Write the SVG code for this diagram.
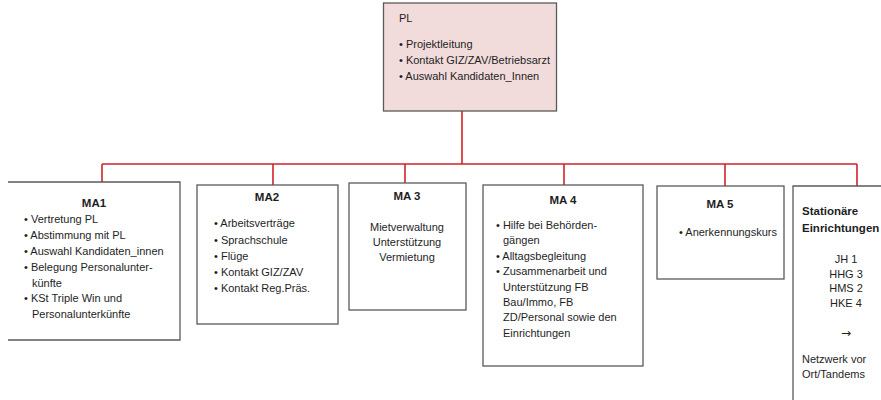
<svg xmlns="http://www.w3.org/2000/svg" width="881" height="400" viewBox="0 0 881 400">
<style>
.box{fill:#ffffff;stroke:#5a5a5a;stroke-width:1.3}
.pl{fill:#f2dcdb;stroke:#5a5a5a;stroke-width:1.3}
.conn{fill:none;stroke:#d2222a;stroke-width:1.6}
text{font-family:"Liberation Sans",Arial,sans-serif;font-size:11px;fill:#1e1e1e}
.t{font-weight:bold;font-size:11.5px}
.c{text-anchor:middle}
.ar{font-family:"DejaVu Sans",sans-serif;font-size:12px}
</style>
<rect width="881" height="400" fill="#ffffff"/>
<g id="connectors">
<path class="conn" d="M462 111V164M102 164H857M102 164V182M273 164V185M405 164V183M564 164V185M725 164V186M857 164V186"/>
</g>
<g id="pl">
<rect class="pl" x="383.5" y="3" width="173" height="108"/>
<text x="399" y="22">PL</text>
<text x="399" y="48">• Projektleitung</text>
<text x="399" y="64">• Kontakt GIZ/ZAV/Betriebsarzt</text>
<text x="399" y="80">• Auswahl Kandidaten_Innen</text>
</g>
<g id="ma1">
<path class="box" d="M8 182H180V340H8"/>
<text class="t c" x="94" y="207">MA1</text>
<text x="24" y="223">• Vertretung PL</text>
<text x="24" y="239">• Abstimmung mit PL</text>
<text x="24" y="255">• Auswahl Kandidaten_innen</text>
<text x="24" y="271">• Belegung Personalunter-</text>
<text x="32" y="287">künfte</text>
<text x="24" y="302">• KSt Triple Win und</text>
<text x="32" y="318">Personalunterkünfte</text>
</g>
<g id="ma2">
<rect class="box" x="197" y="185" width="141" height="139"/>
<text class="t c" x="267" y="201">MA2</text>
<text x="214" y="227">• Arbeitsverträge</text>
<text x="214" y="244">• Sprachschule</text>
<text x="214" y="260">• Flüge</text>
<text x="214" y="276">• Kontakt GIZ/ZAV</text>
<text x="214" y="292">• Kontakt Reg.Präs.</text>
</g>
<g id="ma3">
<rect class="box" x="349" y="183" width="117" height="127"/>
<text class="t c" x="407" y="200">MA 3</text>
<text class="c" x="407" y="231">Mietverwaltung</text>
<text class="c" x="407" y="246">Unterstützung</text>
<text class="c" x="407" y="261">Vermietung</text>
</g>
<g id="ma4">
<rect class="box" x="483" y="185" width="160" height="181"/>
<text class="t c" x="563" y="204">MA 4</text>
<text x="496" y="229">• Hilfe bei Behörden-</text>
<text x="503" y="244">gängen</text>
<text x="496" y="260">• Alltagsbegleitung</text>
<text x="496" y="275">• Zusammenarbeit und</text>
<text x="503" y="291">Unterstützung FB</text>
<text x="503" y="306">Bau/Immo, FB</text>
<text x="503" y="321">ZD/Personal sowie den</text>
<text x="503" y="337">Einrichtungen</text>
</g>
<g id="ma5">
<rect class="box" x="657" y="186" width="127" height="93"/>
<text class="t c" x="720" y="208">MA 5</text>
<text x="679" y="236">• Anerkennungskurs</text>
</g>
<g id="stationaer">
<path class="box" d="M793 400V186H890"/>
<text class="t" x="802" y="215">Stationäre</text>
<text class="t" x="802" y="232">Einrichtungen</text>
<text class="c" x="846" y="263">JH 1</text>
<text class="c" x="846" y="278">HHG 3</text>
<text class="c" x="846" y="292">HMS 2</text>
<text class="c" x="846" y="307">HKE 4</text>
<text class="c ar" x="846" y="337">→</text>
<text x="802" y="363">Netzwerk vor</text>
<text x="802" y="378">Ort/Tandems</text>
</g>
</svg>
